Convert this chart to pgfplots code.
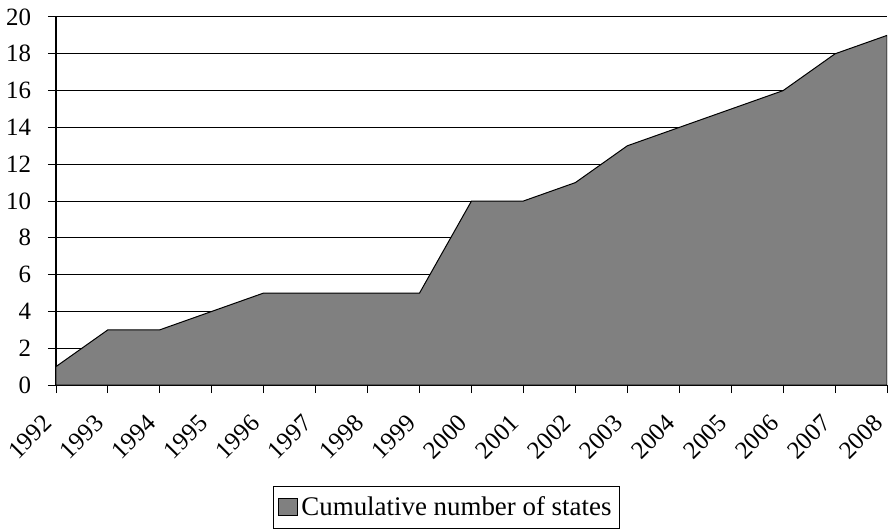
\documentclass[border=0pt]{standalone}
\usepackage{pgfplots}
\pgfplotsset{compat=1.18}
\usepackage{fontspec}
\setmainfont{Liberation Serif}
\begin{document}
\begin{tikzpicture}
\useasboundingbox (-28bp,-72bp) rectangle (416bp,192.5bp);
\begin{axis}[
  scale only axis,
  width=415.5bp, height=184bp,
  xmin=0, xmax=16, ymin=0, ymax=20,
  axis x line*=bottom, axis y line*=left,
  axis line style={line width=0.8bp, -},
  xtick={0,...,16},
  xticklabels={1992,1993,1994,1995,1996,1997,1998,1999,2000,2001,2002,2003,2004,2005,2006,2007,2008},
  ytick={0,2,...,20},
  tick align=outside,
  major tick length=4bp,
  tick style={line width=0.5bp, black},
  ymajorgrids,
  grid style={line width=0.5bp, black},
  /pgf/number format/assume math mode=true,
  tick label style={font=\fontsize{12.5}{14}\selectfont},
  xticklabel style={yshift=-16bp, xshift=-1bp, rotate=45, anchor=south east, inner sep=0pt},
  every y tick label/.append style={xshift=-5bp},
  legend style={at={(0.47,-0.2745)}, anchor=north, draw=black, line width=0.5bp,
    font=\fontsize{13.5}{16}\selectfont, inner xsep=2bp, inner ysep=3bp, legend cell align=left},
  legend image code/.code={\draw[fill=black!50, line width=0.4bp] (0bp,-4bp) rectangle (9.5bp,4.5bp);},
]
\addplot[fill=black!50, draw=black, line width=0.5bp] coordinates {
(0,1) (1,3) (2,3) (3,4) (4,5) (5,5) (6,5) (7,5) (8,10) (9,10) (10,11) (11,13) (12,14) (13,15) (14,16) (15,18) (16,19)
} \closedcycle;
\addlegendentry{Cumulative number of states}
\end{axis}
\end{tikzpicture}
\end{document}
